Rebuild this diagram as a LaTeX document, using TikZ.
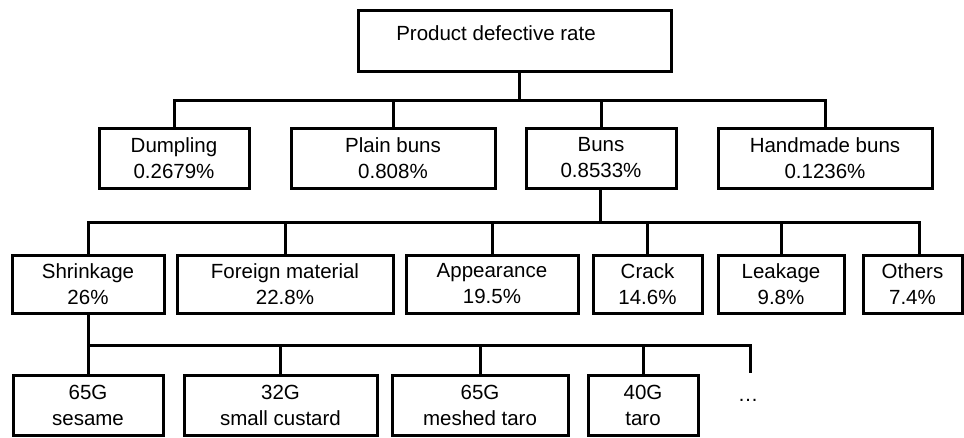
\documentclass[tikz,border=0pt]{standalone}
\usepackage{fontspec}
\setmainfont{Liberation Sans}
\usepackage{tikz}

\tikzset{
  box/.style={draw, line width=3pt, inner sep=0pt, align=center,
    font=\fontsize{20.5}{26}\selectfont},
  txt/.style={inner sep=0pt, font=\fontsize{20.5}{26}\selectfont},
  link/.style={line width=3pt}
}

\begin{document}
\begin{tikzpicture}[x=1pt, y=-1pt]
    \useasboundingbox (0,0) rectangle (964,437);

    \node[box, minimum width=313pt, minimum height=61pt] (top) at (514.5,40.5) {};
    \node[txt] (topl) at (496,33) {Product defective rate};

    \node[box, minimum width=150pt, minimum height=60pt] (dump) at (174,158) {Dumpling\\ 0.2679\%};
    \node[box, minimum width=204pt, minimum height=60pt] (plain) at (393,158) {Plain buns\\ 0.808\%};
    \node[box, minimum width=150pt, minimum height=60pt] (buns) at (601,158) {Buns\\ 0.8533\%};
    \node[box, minimum width=214pt, minimum height=60pt] (hand) at (825,158) {Handmade buns\\ 0.1236\%};

    \node[box, minimum width=152pt, minimum height=58pt] (shrink) at (88,284) {Shrinkage\\ 26\%};
    \node[box, minimum width=216pt, minimum height=58pt] (foreign) at (285,284) {Foreign material\\ 22.8\%};
    \node[box, minimum width=172pt, minimum height=58pt] (appear) at (492,284) {Appearance\\ 19.5\%};
    \node[box, minimum width=109pt, minimum height=58pt] (crack) at (647.5,284) {Crack\\ 14.6\%};
    \node[box, minimum width=126pt, minimum height=58pt] (leak) at (781,284) {Leakage\\ 9.8\%};
    \node[box, minimum width=99pt, minimum height=58pt] (others) at (912.5,284) {Others\\ 7.4\%};

    \node[box, minimum width=150pt, minimum height=60pt] (sesame) at (88,405) {65G\\ sesame};
    \node[box, minimum width=193pt, minimum height=60pt] (custard) at (280.5,405) {32G\\ small custard};
    \node[box, minimum width=176pt, minimum height=60pt] (meshed) at (480,405) {65G\\ meshed taro};
    \node[box, minimum width=110pt, minimum height=60pt] (taro) at (643,405) {40G\\ taro};
    \node[txt] (dots) at (748,400) {…};

    \coordinate (bus1) at (519,100);
    \coordinate (bus2) at (600,222);
    \coordinate (oth) at (919,222);
    \coordinate (bus3) at (750,345);
    \coordinate (more) at (750,373);

    \draw[link] (top.south -| bus1) -- (bus1);
    \draw[link] (dump.north) |- (hand.north |- bus1) -- (hand.north);
    \draw[link] (plain.north) -- (plain.north |- bus1);
    \draw[link] (buns.north) -- (buns.north |- bus1);

    \draw[link] (buns.south -| bus2) -- (bus2);
    \draw[link] (shrink.north) |- (oth) -- (others.north -| oth);
    \draw[link] (foreign.north) -- (foreign.north |- bus2);
    \draw[link] (appear.north) -- (appear.north |- bus2);
    \draw[link] (crack.north) -- (crack.north |- bus2);
    \draw[link] (leak.north) -- (leak.north |- bus2);

    \draw[link] (shrink.south) -- (shrink.south |- bus3);
    \draw[link] (sesame.north) |- (bus3) -- (more);
    \draw[link] (custard.north) -- (custard.north |- bus3);
    \draw[link] (meshed.north) -- (meshed.north |- bus3);
    \draw[link] (taro.north) -- (taro.north |- bus3);
\end{tikzpicture}
\end{document}
